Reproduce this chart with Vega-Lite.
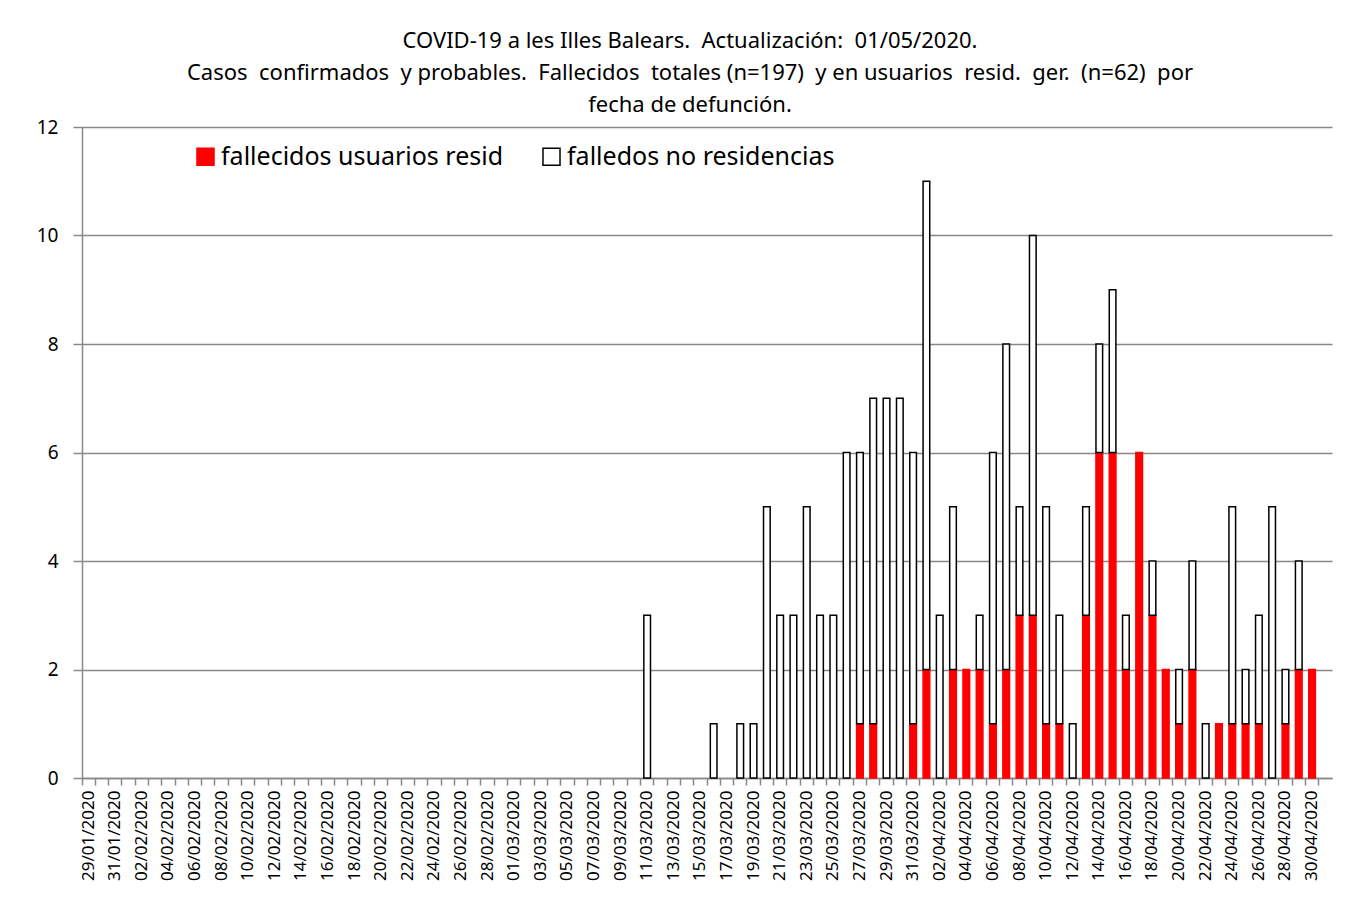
{
  "$schema": "https://vega.github.io/schema/vega-lite/v6.json",
  "width": 1250,
  "height": 651,
  "autosize": {"type": "none"},
  "padding": {"left": 82, "top": 127, "right": 31, "bottom": 120},
  "background": "white",
  "config": {"font": "Noto Sans", "view": {"stroke": null}},
  "title": {
    "text": ["COVID-19 a les Illes Balears. \u00a0Actualización: \u00a001/05/2020.", "Casos \u00a0confirmados \u00a0y probables. \u00a0Fallecidos \u00a0totales (n=197) \u00a0y en usuarios \u00a0resid. \u00a0ger. \u00a0(n=62) \u00a0por", "fecha de defunción."],
    "fontSize": 22,
    "fontWeight": "normal",
    "font": "Noto Sans",
    "color": "black",
    "lineHeight": 32,
    "anchor": "middle",
    "offset": 1,
    "dx": -17
  },
  "data": {"values": [
    {"d": "2020-01-29", "resid": 0, "nores": 0},
    {"d": "2020-01-30", "resid": 0, "nores": 0},
    {"d": "2020-01-31", "resid": 0, "nores": 0},
    {"d": "2020-02-01", "resid": 0, "nores": 0},
    {"d": "2020-02-02", "resid": 0, "nores": 0},
    {"d": "2020-02-03", "resid": 0, "nores": 0},
    {"d": "2020-02-04", "resid": 0, "nores": 0},
    {"d": "2020-02-05", "resid": 0, "nores": 0},
    {"d": "2020-02-06", "resid": 0, "nores": 0},
    {"d": "2020-02-07", "resid": 0, "nores": 0},
    {"d": "2020-02-08", "resid": 0, "nores": 0},
    {"d": "2020-02-09", "resid": 0, "nores": 0},
    {"d": "2020-02-10", "resid": 0, "nores": 0},
    {"d": "2020-02-11", "resid": 0, "nores": 0},
    {"d": "2020-02-12", "resid": 0, "nores": 0},
    {"d": "2020-02-13", "resid": 0, "nores": 0},
    {"d": "2020-02-14", "resid": 0, "nores": 0},
    {"d": "2020-02-15", "resid": 0, "nores": 0},
    {"d": "2020-02-16", "resid": 0, "nores": 0},
    {"d": "2020-02-17", "resid": 0, "nores": 0},
    {"d": "2020-02-18", "resid": 0, "nores": 0},
    {"d": "2020-02-19", "resid": 0, "nores": 0},
    {"d": "2020-02-20", "resid": 0, "nores": 0},
    {"d": "2020-02-21", "resid": 0, "nores": 0},
    {"d": "2020-02-22", "resid": 0, "nores": 0},
    {"d": "2020-02-23", "resid": 0, "nores": 0},
    {"d": "2020-02-24", "resid": 0, "nores": 0},
    {"d": "2020-02-25", "resid": 0, "nores": 0},
    {"d": "2020-02-26", "resid": 0, "nores": 0},
    {"d": "2020-02-27", "resid": 0, "nores": 0},
    {"d": "2020-02-28", "resid": 0, "nores": 0},
    {"d": "2020-02-29", "resid": 0, "nores": 0},
    {"d": "2020-03-01", "resid": 0, "nores": 0},
    {"d": "2020-03-02", "resid": 0, "nores": 0},
    {"d": "2020-03-03", "resid": 0, "nores": 0},
    {"d": "2020-03-04", "resid": 0, "nores": 0},
    {"d": "2020-03-05", "resid": 0, "nores": 0},
    {"d": "2020-03-06", "resid": 0, "nores": 0},
    {"d": "2020-03-07", "resid": 0, "nores": 0},
    {"d": "2020-03-08", "resid": 0, "nores": 0},
    {"d": "2020-03-09", "resid": 0, "nores": 0},
    {"d": "2020-03-10", "resid": 0, "nores": 0},
    {"d": "2020-03-11", "resid": 0, "nores": 3},
    {"d": "2020-03-12", "resid": 0, "nores": 0},
    {"d": "2020-03-13", "resid": 0, "nores": 0},
    {"d": "2020-03-14", "resid": 0, "nores": 0},
    {"d": "2020-03-15", "resid": 0, "nores": 0},
    {"d": "2020-03-16", "resid": 0, "nores": 1},
    {"d": "2020-03-17", "resid": 0, "nores": 0},
    {"d": "2020-03-18", "resid": 0, "nores": 1},
    {"d": "2020-03-19", "resid": 0, "nores": 1},
    {"d": "2020-03-20", "resid": 0, "nores": 5},
    {"d": "2020-03-21", "resid": 0, "nores": 3},
    {"d": "2020-03-22", "resid": 0, "nores": 3},
    {"d": "2020-03-23", "resid": 0, "nores": 5},
    {"d": "2020-03-24", "resid": 0, "nores": 3},
    {"d": "2020-03-25", "resid": 0, "nores": 3},
    {"d": "2020-03-26", "resid": 0, "nores": 6},
    {"d": "2020-03-27", "resid": 1, "nores": 5},
    {"d": "2020-03-28", "resid": 1, "nores": 6},
    {"d": "2020-03-29", "resid": 0, "nores": 7},
    {"d": "2020-03-30", "resid": 0, "nores": 7},
    {"d": "2020-03-31", "resid": 1, "nores": 5},
    {"d": "2020-04-01", "resid": 2, "nores": 9},
    {"d": "2020-04-02", "resid": 0, "nores": 3},
    {"d": "2020-04-03", "resid": 2, "nores": 3},
    {"d": "2020-04-04", "resid": 2, "nores": 0},
    {"d": "2020-04-05", "resid": 2, "nores": 1},
    {"d": "2020-04-06", "resid": 1, "nores": 5},
    {"d": "2020-04-07", "resid": 2, "nores": 6},
    {"d": "2020-04-08", "resid": 3, "nores": 2},
    {"d": "2020-04-09", "resid": 3, "nores": 7},
    {"d": "2020-04-10", "resid": 1, "nores": 4},
    {"d": "2020-04-11", "resid": 1, "nores": 2},
    {"d": "2020-04-12", "resid": 0, "nores": 1},
    {"d": "2020-04-13", "resid": 3, "nores": 2},
    {"d": "2020-04-14", "resid": 6, "nores": 2},
    {"d": "2020-04-15", "resid": 6, "nores": 3},
    {"d": "2020-04-16", "resid": 2, "nores": 1},
    {"d": "2020-04-17", "resid": 6, "nores": 0},
    {"d": "2020-04-18", "resid": 3, "nores": 1},
    {"d": "2020-04-19", "resid": 2, "nores": 0},
    {"d": "2020-04-20", "resid": 1, "nores": 1},
    {"d": "2020-04-21", "resid": 2, "nores": 2},
    {"d": "2020-04-22", "resid": 0, "nores": 1},
    {"d": "2020-04-23", "resid": 1, "nores": 0},
    {"d": "2020-04-24", "resid": 1, "nores": 4},
    {"d": "2020-04-25", "resid": 1, "nores": 1},
    {"d": "2020-04-26", "resid": 1, "nores": 2},
    {"d": "2020-04-27", "resid": 0, "nores": 5},
    {"d": "2020-04-28", "resid": 1, "nores": 1},
    {"d": "2020-04-29", "resid": 2, "nores": 2},
    {"d": "2020-04-30", "resid": 2, "nores": 0},
    {"d": "2020-05-01", "resid": 0, "nores": 0}
  ]},
  "transform": [{"fold": ["resid", "nores"], "as": ["key", "value"]}],
  "mark": {"type": "bar"},
  "encoding": {
    "x": {
      "field": "d",
      "timeUnit": "utcyearmonthdate",
      "type": "ordinal",
      "scale": {"paddingInner": 0.5, "paddingOuter": 0.25},
      "axis": {
        "title": null,
        "labelAngle": -90,
        "labelFontSize": 17,
        "labelColor": "black",
        "labelExpr": "utcdayofyear(datum.value) % 2 == 1 ? utcFormat(datum.value, '%d/%m/%Y') : ''",
        "labelOverlap": false,
        "labelBound": false,
        "labelPadding": 5,
        "tickSize": 7,
        "tickColor": "#888888",
        "tickWidth": 1.5,
        "domainColor": "#888888",
        "domainWidth": 1.5,
        "bandPosition": -0.5,
        "grid": false
      }
    },
    "y": {
      "field": "value",
      "type": "quantitative",
      "stack": "zero",
      "scale": {"domain": [0, 12], "nice": false},
      "axis": {
        "title": null,
        "values": [0, 2, 4, 6, 8, 10, 12],
        "grid": true,
        "gridColor": "#888888",
        "gridWidth": 1.5,
        "domainColor": "#888888",
        "domainWidth": 1.5,
        "tickColor": "#888888",
        "tickWidth": 1.5,
        "tickSize": 9,
        "labelFontSize": 19,
        "labelColor": "black",
        "labelPadding": 15
      }
    },
    "color": {
      "field": "key",
      "type": "nominal",
      "scale": {"domain": ["resid", "nores"], "range": ["#FF0000", "#FFFFFF"]},
      "legend": {
        "title": null,
        "orient": "none",
        "legendX": 111,
        "legendY": 17,
        "direction": "horizontal",
        "symbolType": "square",
        "symbolSize": 290,
        "symbolStrokeWidth": 1.5,
        "symbolOpacity": 1,
        "labelFontSize": 25,
        "labelColor": "black",
        "labelLimit": 0,
        "labelOffset": 3,
        "columnPadding": 35,
        "padding": 0,
        "labelExpr": "datum.label == 'resid' ? 'fallecidos usuarios resid' : 'falledos no residencias'"
      }
    },
    "stroke": {
      "field": "key",
      "type": "nominal",
      "scale": {"domain": ["resid", "nores"], "range": ["#FF0000", "#000000"]},
      "legend": {
        "title": null,
        "orient": "none",
        "legendX": 111,
        "legendY": 17,
        "direction": "horizontal",
        "symbolType": "square",
        "symbolSize": 290,
        "symbolStrokeWidth": 1.5,
        "symbolOpacity": 1,
        "labelFontSize": 25,
        "labelColor": "black",
        "labelLimit": 0,
        "labelOffset": 3,
        "columnPadding": 35,
        "padding": 0,
        "labelExpr": "datum.label == 'resid' ? 'fallecidos usuarios resid' : 'falledos no residencias'"
      }
    },
    "strokeWidth": {"condition": {"test": "datum.value > 0", "value": 1.5}, "value": 0},
    "order": {"field": "key", "sort": "descending"}
  }
}
